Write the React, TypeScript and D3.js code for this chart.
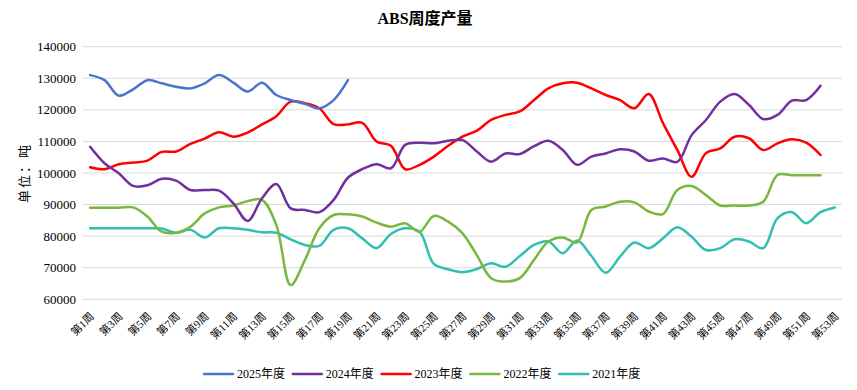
import React, { useEffect, useRef } from "react";
import * as d3 from "d3";

const weeks = d3.range(1, 54).map(i => `第${i}周`);
const yTicks = [60000, 70000, 80000, 90000, 100000, 110000, 120000, 130000, 140000];

const y2025 = [131000, 129400, 124500, 126500, 129400, 128400, 127300, 126800, 128400, 131000,
  128600, 125800, 128600, 124700, 123100, 121900, 120500, 123100, 129400];

const y2024 = [108300, 103100, 99900, 95900, 96100, 98200, 97600, 94600, 94600, 94400,
  90400, 84800, 92000, 96500, 88800, 88300, 87600, 91500, 98500, 101200,
  102800, 101500, 108900, 109600, 109400, 110200, 110400, 106800, 103600, 106200,
  106000, 108500, 110200, 107300, 102600, 105200, 106200, 107500, 106800, 103900,
  104600, 103500, 112000, 116800, 122600, 125000, 121600, 117100, 118400, 122900,
  123100, 127600];

const y2023 = [101800, 101200, 102800, 103300, 103900, 106700, 106800, 109200, 110900, 112900,
  111500, 112800, 115400, 118000, 122600, 122100, 120500, 115500, 115400, 115900,
  110000, 108600, 101200, 102600, 105200, 108600, 111500, 113400, 116800, 118400,
  119500, 123100, 126800, 128400, 128600, 126800, 124700, 123100, 120500, 125000,
  115800, 107300, 98800, 106300, 107800, 111500, 111000, 107300, 109400, 110700,
  109600, 105700];

const y2022 = [89000, 89000, 89000, 89100, 86200, 81400, 81100, 83000, 87200, 89100,
  89700, 91100, 91500, 83500, 64500, 72500, 82500, 86700, 86900, 86200,
  84300, 83000, 84100, 81400, 86400, 84600, 80900, 74000, 66700, 65600,
  66700, 72500, 78300, 79600, 78000, 88300, 89400, 90900, 90700, 87800,
  87000, 94600, 95900, 93000, 89700, 89700, 89700, 90900, 99400, 99300,
  99300, 99300];

const y2021 = [82500, 82500, 82500, 82500, 82500, 82400, 81100, 82000, 79600, 82500,
  82500, 82000, 81200, 81100, 79000, 77200, 76900, 82000, 82500, 79300,
  76200, 80700, 82500, 81400, 71200, 69500, 68600, 69600, 71400, 70300,
  73700, 77200, 78300, 74600, 78600, 73700, 68400, 73500, 78000, 76200,
  79300, 82800, 79800, 75600, 76200, 79000, 78300, 76200, 85700, 87600,
  84100, 87600, 89100];

const seriesNames = ["2025年度", "2024年度", "2023年度", "2022年度", "2021年度"];
const seriesColors = ["#4874cb", "#7030a0", "#ff0000", "#78b83e", "#2fbfb3"];
const seriesValues = [y2025, y2024, y2023, y2022, y2021];

const W = 857;
const H = 390;
const FONT = "'Liberation Serif', 'Times New Roman', 'Noto Sans CJK SC', serif";

export default function App() {
  const ref = useRef<SVGSVGElement>(null);

  useEffect(() => {
    const svg = d3.select(ref.current);
    svg.selectAll("*").remove();

    const left = 83, right = 842, top = 46.7, bottom = 299.3;

    const x = d3.scaleBand().domain(weeks).range([left, right]);
    const y = d3.scaleLinear().domain([60000, 140000]).range([bottom, top]);
    const cx = (i: number) => (x(weeks[i]) as number) + x.bandwidth() / 2;

    // title
    svg.append("text")
      .attr("x", 425).attr("y", 24)
      .attr("text-anchor", "middle")
      .attr("font-family", FONT)
      .attr("font-weight", "bold")
      .attr("font-size", 16)
      .text("ABS周度产量");

    // grid
    svg.append("g")
      .selectAll("line")
      .data(yTicks)
      .join("line")
      .attr("x1", left).attr("x2", right)
      .attr("y1", d => y(d)).attr("y2", d => y(d))
      .attr("stroke", "#d9d9d9")
      .attr("stroke-width", 1);

    // y labels
    svg.append("g")
      .attr("font-family", FONT)
      .attr("font-size", 13)
      .attr("text-anchor", "end")
      .selectAll("text")
      .data(yTicks)
      .join("text")
      .attr("x", 76)
      .attr("y", d => y(d))
      .attr("dy", "0.35em")
      .text(d => d);

    svg.append("text")
      .attr("transform", "translate(24,173) rotate(-90)")
      .attr("text-anchor", "middle")
      .attr("dy", "0.35em")
      .attr("font-family", FONT)
      .attr("font-size", 13)
      .attr("letter-spacing", 2)
      .text("单位：吨");

    // x labels
    svg.append("g")
      .attr("font-family", FONT)
      .attr("font-size", 11)
      .attr("text-anchor", "end")
      .selectAll("text")
      .data(weeks.filter((_, i) => i % 2 === 0))
      .join("text")
      .attr("transform", d => `translate(${(x(d) as number) + x.bandwidth() / 2 + 2},${bottom + 15}) rotate(-45)`)
      .attr("dy", "0.35em")
      .text(d => d);

    // lines
    const line = d3.line<number>()
      .x((_, i) => cx(i))
      .y(d => y(d))
      .curve(d3.curveCatmullRom.alpha(0.5));

    svg.append("g")
      .selectAll("path")
      .data(seriesValues.map((v, i) => ({ v, c: seriesColors[i] })).reverse())
      .join("path")
      .attr("fill", "none")
      .attr("stroke", d => d.c)
      .attr("stroke-width", 2.5)
      .attr("stroke-linecap", "round")
      .attr("stroke-linejoin", "round")
      .attr("d", d => line(d.v));

    // legend
    const lg = svg.append("g").attr("font-family", FONT).attr("font-size", 12);
    const item = lg.selectAll("g")
      .data(seriesNames)
      .join("g")
      .attr("transform", (_, i) => `translate(${204 + i * 88.8},374)`);
    item.append("line")
      .attr("x1", 0).attr("x2", 29)
      .attr("stroke", (_, i) => seriesColors[i])
      .attr("stroke-width", 2.5)
      .attr("stroke-linecap", "round");
    item.append("text")
      .attr("x", 33)
      .attr("dy", "0.35em")
      .text(d => d);
  }, []);

  return (
    <svg
      ref={ref}
      width={W}
      height={H}
      style={{ position: "absolute", left: 0, top: 0, background: "#fff" }}
    />
  );
}
